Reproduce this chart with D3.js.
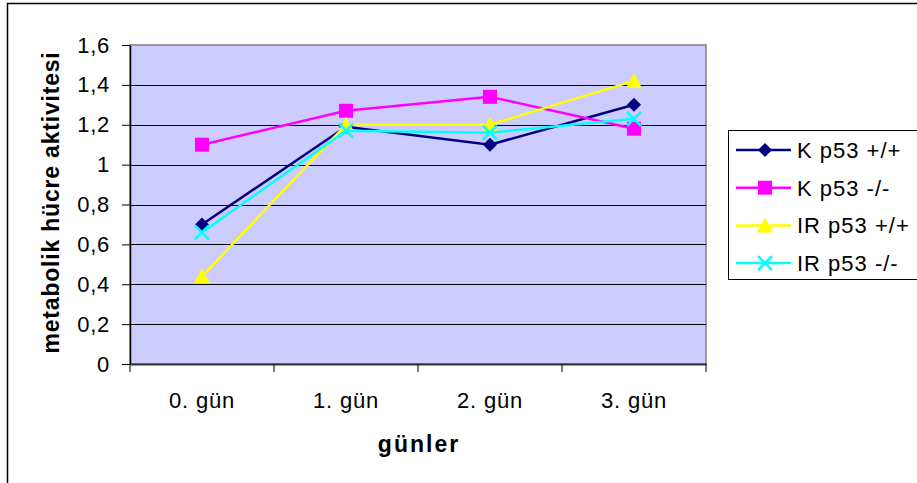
<!DOCTYPE html>
<html>
<head>
<meta charset="utf-8">
<script src="https://cdnjs.cloudflare.com/ajax/libs/d3/7.8.5/d3.min.js"></script>
<style>
  body { margin:0; background:#fff; }
  svg { display:block; font-family: "Liberation Sans", Arial, sans-serif; }
</style>
</head>
<body>
<div id="chart"></div>
<script>
// categories + series
var days = ["0. gün", "1. gün", "2. gün", "3. gün"];
var yTicks = [0, 0.2, 0.4, 0.6, 0.8, 1, 1.2, 1.4, 1.6];
var seriesNames = ["K p53 +/+", "K p53 -/-", "IR p53 +/+", "IR p53 -/-"];
var kPlus   = [0.70, 1.19, 1.10, 1.30];
var kMinus  = [1.10, 1.27, 1.34, 1.18];
var irPlus  = [0.44, 1.20, 1.20, 1.42];
var irMinus = [0.66, 1.17, 1.16, 1.23];

var colors = ["#000080", "#FF00FF", "#FFFF00", "#00FFFF"];
var shapes = ["diamond", "square", "triangle", "x"];
var allSeries = [kPlus, kMinus, irPlus, irMinus];

var W = 917, H = 483;
var margin = { left:130, right:211, top:45, bottom:119 };
var width = W - margin.left - margin.right,
    height = H - margin.top - margin.bottom;

var svg = d3.select("#chart").append("svg")
    .attr("width", W)
    .attr("height", H);

// outer chart frame (cropped at right/bottom)
svg.append("path")
    .attr("d", "M7.5," + H + "V3.5H" + W)
    .attr("fill", "none")
    .attr("stroke", "#000")
    .attr("stroke-width", 1.5);

var g = svg.append("g")
    .attr("transform", "translate(" + margin.left + "," + margin.top + ")");

var x = d3.scaleBand().domain(days).range([0, width]);
var y = d3.scaleLinear().domain([0, 1.6]).range([height, 0]);

// plot background
g.append("rect")
    .attr("width", width)
    .attr("height", height)
    .attr("fill", "#CCCCFF")
    .attr("stroke", "#808080")
    .attr("stroke-width", 1.5);

// gridlines
g.selectAll("line.grid")
    .data(yTicks.filter(function(d){ return d > 0 && d < 1.6; }))
    .enter().append("line")
    .attr("class", "grid")
    .attr("x1", 0).attr("x2", width)
    .attr("y1", function(d){ return Math.round(y(d)) + 0.5; })
    .attr("y2", function(d){ return Math.round(y(d)) + 0.5; })
    .attr("stroke", "#000")
    .attr("stroke-width", 1);

// y axis
var yAxis = g.append("g")
    .call(d3.axisLeft(y).tickValues(yTicks).tickSize(8).tickSizeOuter(0)
        .tickFormat(function(d){ return String(d).replace(".", ","); }));
yAxis.select(".domain").attr("stroke", "#000").attr("stroke-width", 1.5);
yAxis.selectAll(".tick line").attr("stroke", "#000");
yAxis.selectAll("text")
    .attr("font-size", "22px")
    .attr("letter-spacing", "0.7px")
    .attr("fill", "#000")
    .attr("x", -20);

// x axis
var xTickPos = d3.range(days.length + 1).map(function(i){ return i * x.bandwidth(); });
var xAxis = g.append("g")
    .attr("transform", "translate(0," + height + ")")
    .call(d3.axisBottom(x).tickSize(0).tickSizeOuter(0));
xAxis.select(".domain").attr("stroke", "#333").attr("stroke-width", 2);
xAxis.selectAll("text")
    .attr("font-size", "22px")
    .attr("letter-spacing", "0.8px")
    .attr("fill", "#000")
    .attr("x", 0)
    .attr("y", 28.5);
xAxis.selectAll("line.sep")
    .data(xTickPos)
    .enter().append("line")
    .attr("class", "sep")
    .attr("x1", function(d){ return d; }).attr("x2", function(d){ return d; })
    .attr("y1", 0).attr("y2", 8)
    .attr("stroke", "#000");

// axis titles
svg.append("text")
    .attr("x", margin.left + width / 2 + 1)
    .attr("y", 452)
    .attr("text-anchor", "middle")
    .attr("font-weight", "bold")
    .attr("font-size", "23px")
    .attr("letter-spacing", "2px")
    .text("günler");

svg.append("text")
    .attr("transform", "translate(59," + (margin.top + height / 2 - 2) + ") rotate(-90)")
    .attr("text-anchor", "middle")
    .attr("font-weight", "bold")
    .attr("font-size", "23px")
    .attr("letter-spacing", "0.8px")
    .text("metabolik hücre aktivitesi");

function marker(sel, shape, color) {
  if (shape === "diamond") {
    sel.append("path").attr("d", "M0,-7L7,0L0,7L-7,0Z").attr("fill", color);
  } else if (shape === "square") {
    sel.append("rect").attr("x", -7).attr("y", -7).attr("width", 14).attr("height", 14).attr("fill", color);
  } else if (shape === "triangle") {
    sel.append("path").attr("d", "M0,-8L8,7L-8,7Z").attr("fill", color);
  } else {
    sel.append("path").attr("d", "M-7,-7L7,7M-7,7L7,-7")
        .attr("stroke", color).attr("stroke-width", 2.5).attr("fill", "none");
  }
}

var line = d3.line()
    .x(function(d, i){ return x(days[i]) + x.bandwidth() / 2; })
    .y(function(d){ return y(d); });

allSeries.forEach(function(vals, s){
  g.append("path")
      .datum(vals)
      .attr("d", line)
      .attr("fill", "none")
      .attr("stroke", colors[s])
      .attr("stroke-width", 2.5);
  vals.forEach(function(v, i){
    var m = g.append("g")
        .attr("transform", "translate(" + (x(days[i]) + x.bandwidth() / 2) + "," + y(v) + ")");
    marker(m, shapes[s], colors[s]);
  });
});

// legend
var legend = svg.append("g").attr("transform", "translate(728,130)");
legend.append("rect")
    .attr("x", 0.5).attr("y", 0.5)
    .attr("width", 220).attr("height", 149)
    .attr("fill", "#fff")
    .attr("stroke", "#000");

seriesNames.forEach(function(name, s){
  var row = legend.append("g").attr("transform", "translate(0," + (20 + s * 37.7) + ")");
  row.append("line")
      .attr("x1", 8).attr("x2", 63)
      .attr("stroke", colors[s]).attr("stroke-width", 2.5);
  var m = row.append("g").attr("transform", "translate(37,0)");
  marker(m, shapes[s], colors[s]);
  row.append("text")
      .attr("x", 69).attr("y", 8)
      .attr("font-size", "22px")
      .attr("letter-spacing", "1px")
      .text(name);
});
</script>
</body>
</html>
